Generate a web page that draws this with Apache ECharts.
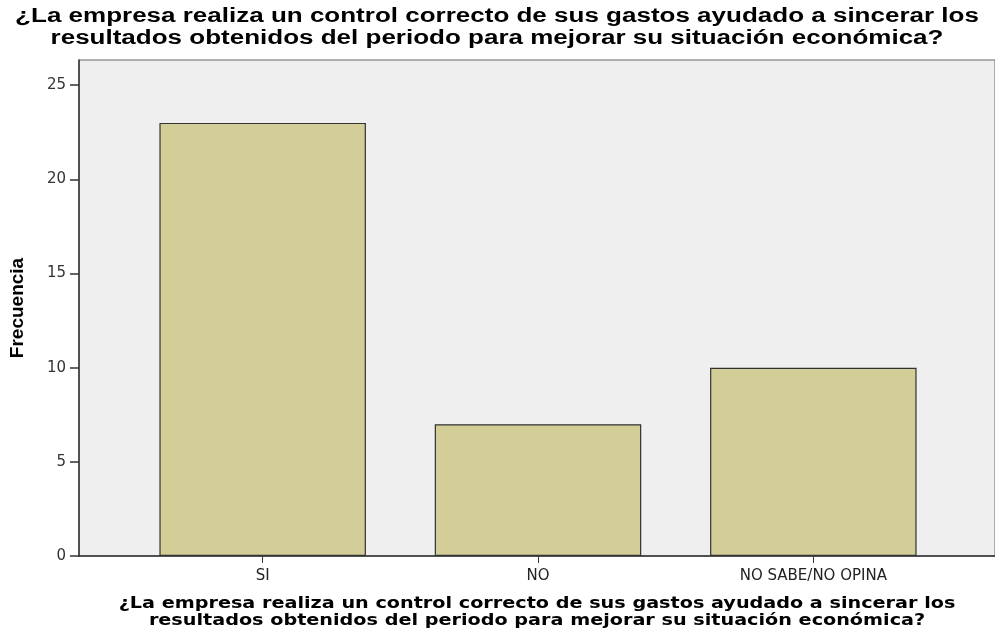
<!DOCTYPE html>
<html lang="es">
<head>
    <meta charset="UTF-8">
    <title>Frecuencia</title>
    <script src="https://cdn.jsdelivr.net/npm/echarts@6/dist/echarts.min.js"></script>
    <style>
        html, body { margin: 0; padding: 0; background: #fff; }
        #chart { width: 995px; height: 634px; }
    </style>
</head>
<body>
    <div id="chart"></div>
<script>
    // datos
    var categorias = ['SI', 'NO', 'NO SABE/NO OPINA'];
    var frecuencias = [23, 7, 10];
    var yMax = 26.34;
    var yIntervalo = 5;
    var preguntaLineas = [
        '¿La empresa realiza un control correcto de sus gastos ayudado a sincerar los',
        'resultados obtenidos del periodo para mejorar su situación económica?'
    ];

    // textos estirados a lo ancho, como en el grafico de SPSS
    function lineaTexto(txt, x, y, font, escala) {
        return {
            type: 'text',
            x: x,
            y: y,
            scaleX: escala,
            style: {
                text: txt,
                font: font,
                fill: '#000',
                align: 'center',
                verticalAlign: 'middle'
            }
        };
    }

    var graficos = [];
    preguntaLineas.forEach(function (linea, i) {
        graficos.push(lineaTexto(linea, 497, 16 + i * 22, 'bold 20px "Liberation Sans"', 1.3));
        graficos.push(lineaTexto(linea, 537, 604 + i * 17, 'bold 15px "DejaVu Sans"', 1.28));
    });

    var myChart = echarts.init(document.getElementById('chart'));
    var option = {
        animation: false,
        graphic: graficos,
        grid: [{
            left: 79, right: -3, top: 60, bottom: 78,
            show: true,
            backgroundColor: '#efefef',
            borderColor: '#666',
            borderWidth: 1
        }, {
            left: 125, right: 44, top: 60, bottom: 78
        }],
        xAxis: [{
            gridIndex: 0,
            type: 'value',
            min: 0, max: 1,
            axisLine: { show: true, onZero: false, lineStyle: { color: '#333', width: 1.5 } },
            axisTick: { show: false },
            axisLabel: { show: false },
            splitLine: { show: false }
        }, {
            gridIndex: 1,
            type: 'category',
            data: categorias,
            axisLine: { show: false },
            axisTick: { show: true, alignWithLabel: true, length: 7, lineStyle: { color: '#333' } },
            axisLabel: {
                margin: 13,
                color: '#222',
                fontFamily: 'DejaVu Sans',
                fontSize: 15
            }
        }],
        yAxis: [{
            gridIndex: 0,
            type: 'value',
            min: 0, max: yMax, interval: yIntervalo,
            name: 'Frecuencia',
            nameLocation: 'middle',
            nameRotate: 90,
            nameGap: 52,
            nameTextStyle: {
                fontFamily: 'Liberation Sans',
                fontWeight: 'bold',
                fontSize: 19,
                color: '#000'
            },
            axisLine: { show: true, lineStyle: { color: '#333', width: 1.5 } },
            axisTick: { show: true, length: 9, lineStyle: { color: '#333', width: 1.5 } },
            axisLabel: {
                margin: 13,
                color: '#333',
                fontFamily: 'DejaVu Sans',
                fontSize: 15,
                showMaxLabel: false
            },
            splitLine: { show: false }
        }, {
            gridIndex: 1,
            type: 'value',
            min: 0, max: yMax, interval: yIntervalo,
            show: false
        }],
        series: [{
            type: 'bar',
            xAxisIndex: 1,
            yAxisIndex: 1,
            data: frecuencias,
            barWidth: '75%',
            itemStyle: {
                color: '#d3ce97',
                borderColor: '#333',
                borderWidth: 1.2
            }
        }]
    };
    myChart.setOption(option);
</script>
</body>
</html>
